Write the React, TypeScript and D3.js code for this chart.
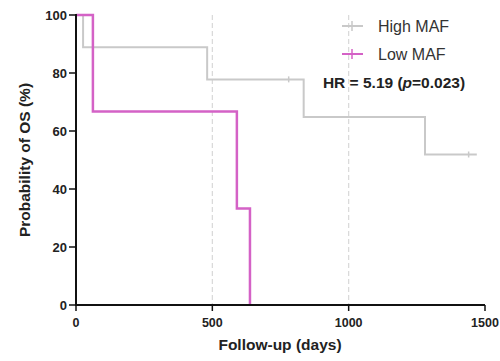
import React from "react";
import * as d3 from "d3";

const highTimes = [0, 26, 481, 835, 1280, 1470];
const highSurv = [100, 88.9, 77.8, 64.8, 51.9, 51.9];
const highCensorT = [780, 1440];
const highCensorS = [77.8, 51.9];
const lowTimes = [0, 62, 590, 638];
const lowSurv = [100, 66.7, 33.3, 0];
const xTicks = [0, 500, 1000, 1500];
const yTicks = [0, 20, 40, 60, 80, 100];
const refLines = [500, 1000];
const seriesNames = ["High MAF", "Low MAF"];
const hrText = "HR = 5.19 (";
const pText = "p";
const pVal = "=0.023)";

const W = 500, H = 361;
const M = { left: 76, right: 15, top: 15, bottom: 56 };
const GRAY = "#c9c9c9";
const PINK = "#d462c6";

export default function App() {
  const x = d3.scaleLinear().domain([0, 1500]).range([M.left, 485]);
  const y = d3.scaleLinear().domain([0, 100]).range([305, M.top]);
  const line = d3
    .line<[number, number]>()
    .x((d) => x(d[0]))
    .y((d) => y(d[1]))
    .curve(d3.curveStepAfter);
  const highPts = highTimes.map((t, i) => [t, highSurv[i]] as [number, number]);
  const lowPts = lowTimes.map((t, i) => [t, lowSurv[i]] as [number, number]);
  const font = "'Liberation Sans', Arial, sans-serif";
  return (
    <svg width={W} height={H} style={{ position: "absolute", left: 0, top: 0, background: "#fff" }} fontFamily={font}>
      {refLines.map((r) => (
        <line key={r} x1={x(r)} x2={x(r)} y1={y(100)} y2={y(0)} stroke="#d8d8d8" strokeWidth={1.2} strokeDasharray="5,3" />
      ))}
      <path d={line(highPts) || ""} fill="none" stroke={GRAY} strokeWidth={2} />
      {highCensorT.map((t, i) => (
        <line key={i} x1={x(t)} x2={x(t)} y1={y(highCensorS[i]) - 3} y2={y(highCensorS[i]) + 3} stroke={GRAY} strokeWidth={1.5} />
      ))}
      <path d={line(lowPts) || ""} fill="none" stroke={PINK} strokeWidth={2.5} />
      {/* axes */}
      <line x1={x(0)} x2={x(0)} y1={y(100) - 1} y2={y(0) + 1} stroke="#111" strokeWidth={2} />
      <line x1={x(0) - 1} x2={x(1500)} y1={y(0)} y2={y(0)} stroke="#111" strokeWidth={2} />
      {yTicks.map((t) => (
        <g key={t}>
          <line x1={x(0) - 7} x2={x(0)} y1={y(t)} y2={y(t)} stroke="#111" strokeWidth={1.5} />
          <text x={x(0) - 9} y={y(t)} dy="0.35em" textAnchor="end" fontSize={13} fontWeight="bold" fill="#222">{t}</text>
        </g>
      ))}
      {xTicks.map((t) => (
        <g key={t}>
          <line x1={x(t)} x2={x(t)} y1={y(0)} y2={y(0) + 6} stroke="#111" strokeWidth={1.5} />
          <text x={x(t)} y={327} textAnchor="middle" fontSize={12.5} fontWeight="bold" fill="#222">{t}</text>
        </g>
      ))}
      <text x={280} y={350} textAnchor="middle" fontSize={15.5} fontWeight="bold" fill="#222">Follow-up (days)</text>
      <text transform="translate(30,160) rotate(-90)" textAnchor="middle" fontSize={15.5} fontWeight="bold" fill="#222">Probability of OS (%)</text>
      {/* legend */}
      {seriesNames.map((n, i) => {
        const ly = 26 + i * 28;
        const c = i === 0 ? GRAY : PINK;
        return (
          <g key={n}>
            <line x1={342} x2={363} y1={ly} y2={ly} stroke={c} strokeWidth={2} />
            <line x1={352} x2={352} y1={ly - 5} y2={ly + 5} stroke={c} strokeWidth={1.5} />
            <text x={378} y={ly} dy="0.36em" fontSize={16} fill="#333">{n}</text>
          </g>
        );
      })}
      <text x={394} y={88} textAnchor="middle" fontSize={15.5} fontWeight="bold" fill="#222">
        {hrText}
        <tspan fontStyle="italic">{pText}</tspan>
        {pVal}
      </text>
    </svg>
  );
}
